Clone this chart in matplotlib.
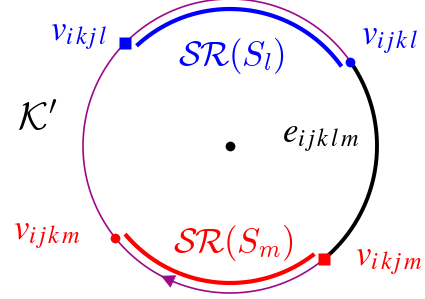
import numpy as np
import matplotlib
matplotlib.use("Agg")
import matplotlib.pyplot as plt

plt.rcParams['mathtext.fontset'] = 'stix'

# geometry (pixel-like units, y downward on screen)
center = (230, 146)
r_outer = 147
r_inner = 137

# vertex angles (degrees, counter-clockwise from +x)
vertex_names = ['ijkl', 'ikjl', 'ijkm', 'ikjm']
vertex_angles = [35, 135.5, 218.5, 309.5]
vertex_colors = ['blue', 'blue', 'red', 'red']
vertex_markers = ['o', 's', 'o', 's']

# arcs: (start, end) angles
purple_arc = (35, 309.5)          # thin outer arc going over the left side
black_arc = (-50.5, 35)           # edge e_ijklm
blue_arc = (35.5, 133)            # SR(S_l)
red_arc = (220, 308)              # SR(S_m)
arrow_angle = 244

purple = '#9c0a8a'

fig = plt.figure(figsize=(4.25, 2.99), dpi=100)
ax = fig.add_axes([0, 0, 1, 1])
ax.set_xlim(0, 425)
ax.set_ylim(299, 0)
ax.axis('off')

def pt(angle, r):
    a = np.radians(angle)
    return center[0] + r * np.cos(a), center[1] - r * np.sin(a)

def arc(a0, a1, r, **kw):
    t = np.linspace(a0, a1, 300)
    x, y = pt(t, r)
    ax.plot(x, y, solid_capstyle='butt', **kw)

arc(*purple_arc, r_outer, color=purple, lw=1.2, zorder=2)
arc(*black_arc, r_outer, color='black', lw=2.8, zorder=3)
arc(*blue_arc, r_inner, color='blue', lw=3.0, zorder=3)
arc(*red_arc, r_inner, color='red', lw=3.0, zorder=3)

# arrow on purple arc (direction: from bottom toward the left)
p_tip = pt(arrow_angle - 2.0, r_outer)
p_tail = pt(arrow_angle + 4.0, r_outer)
ax.annotate('', xy=p_tip, xytext=p_tail,
            arrowprops=dict(arrowstyle='-|>,head_length=0.9,head_width=0.45',
                            color=purple, lw=0.5, shrinkA=0, shrinkB=0), zorder=4)

for ang, col, mk in zip(vertex_angles, vertex_colors, vertex_markers):
    x, y = pt(ang, r_outer)
    ax.plot(x, y, marker=mk, color=col, ms=7 if mk == 'o' else 8, zorder=5, mec='none')

# center dot
ax.plot(center[0], center[1], 'o', color='black', ms=7, mec='none')

def sub(s):
    return r'\,'.join(s)

fs = 25
kw = dict(fontsize=fs, ha='center', va='center')
ax.text(79, 35, r'$v_{%s}$' % sub('ikjl'), color='blue', **kw)
ax.text(390, 39, r'$v_{%s}$' % sub('ijkl'), color='blue', **kw)
ax.text(231, 56, r'$\mathcal{S}\mathcal{R}(S_l)$', color='blue', math_fontfamily='cm', **kw)
ax.text(37, 118, r"$\mathcal{K}'$", color='black', math_fontfamily='cm',
        fontsize=28, ha='center', va='center')
ax.text(321, 137, r'$e_{%s}$' % sub('ijklm'), color='black', **kw)
ax.text(47, 234, r'$v_{%s}$' % sub('ijkm'), color='red', **kw)
ax.text(233, 243, r'$\mathcal{S}\mathcal{R}(S_m)$', color='red', math_fontfamily='cm', **kw)
ax.text(389, 260, r'$v_{%s}$' % sub('ikjm'), color='red', **kw)

fig.savefig('out.png', dpi=100)
